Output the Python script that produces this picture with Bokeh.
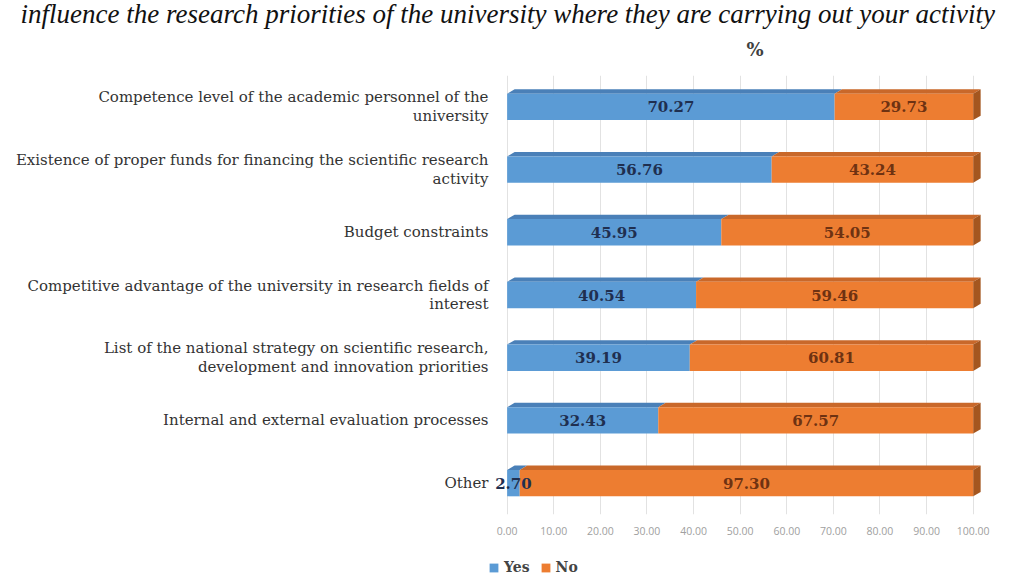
from bokeh.plotting import figure
from bokeh.layouts import column
from bokeh.models import Range1d, FixedTicker, NumeralTickFormatter, ColumnDataSource, Legend, LegendItem, Title
from bokeh.core.properties import value
from bokeh.embed import file_html
from bokeh.resources import INLINE

categories = [
    "Competence level of the academic personnel of the\nuniversity",
    "Existence of proper funds for financing the scientific research\nactivity",
    "Budget constraints",
    "Competitive advantage of the university in research fields of\ninterest",
    "List of the national strategy on scientific research,\ndevelopment and innovation priorities",
    "Internal and external evaluation processes",
    "Other",
]
yes_values = [70.27, 56.76, 45.95, 40.54, 39.19, 32.43, 2.70]
no_values = [29.73, 43.24, 54.05, 59.46, 60.81, 67.57, 97.30]
x_ticks = [0, 10, 20, 30, 40, 50, 60, 70, 80, 90, 100]
series_names = ["Yes", "No"]
caption = "influence the research priorities of the university where they are carrying out your activity"
unit_label = "%"

BLUE, BLUE_TOP = "#5b9bd5", "#4a80b8"
ORANGE, ORANGE_TOP, ORANGE_SIDE = "#ed7d31", "#c9682a", "#a4561f"

n = len(categories)
ys = list(range(n))
H = 0.21      # half height of front face (y units)
DX = 1.6      # depth skew (x units)
DY = 0.07     # depth skew (y units)

p = figure(width=1016, height=552, output_backend="svg", toolbar_location=None,
           x_range=Range1d(-4, 103.5), y_range=Range1d(n - 0.5, -0.5),
           frame_width=501, frame_height=439,
           min_border_left=488, min_border_right=27, min_border_top=75, min_border_bottom=38,
           background_fill_color="white", border_fill_color="white")
p.outline_line_color = None

# outer title: the (cropped) caption
p.title.text = caption
p.title.align = "left"
p.title.offset = -468
p.title.text_font = "Liberation Serif"
p.title.text_font_style = "italic"
p.title.text_font_size = "27px"
p.title.text_color = "#111111"
p.title.standoff = -9

# inner title: unit label
p.add_layout(Title(text=unit_label, text_font="DejaVu Serif", text_font_style="bold",
                   text_font_size="18px", text_color="#404040", align="left",
                   vertical_align="top", offset=258, standoff=28), "above")

yes_left = [0] * n
yes_right = yes_values
no_left = yes_values
no_right = [a + b for a, b in zip(yes_values, no_values)]

src = ColumnDataSource(dict(y=ys, yl=yes_left, yr=yes_right, nl=no_left, nr=no_right,
                            yes_lbl=[f"{v:.2f}" for v in yes_values],
                            no_lbl=[f"{v:.2f}" for v in no_values],
                            yes_mid=[(a + b) / 2 for a, b in zip(yes_left, yes_right)],
                            no_mid=[(a + b) / 2 for a, b in zip(no_left, no_right)]))

# top faces (3D look)
def top_face(l, r, y):
    return [l, r, r + DX, l + DX], [y - H, y - H, y - H - DY, y - H - DY]

txs, tys, tcol = [], [], []
for i in range(n):
    xs_, ys_ = top_face(yes_left[i], yes_right[i], ys[i])
    txs.append(xs_); tys.append(ys_); tcol.append(BLUE_TOP)
    xs_, ys_ = top_face(no_left[i], no_right[i], ys[i])
    txs.append(xs_); tys.append(ys_); tcol.append(ORANGE_TOP)
p.patches(txs, tys, fill_color=tcol, line_color=None)

# right side faces
sxs = [[r, r + DX, r + DX, r] for r in no_right]
sys_ = [[y - H, y - H - DY, y + H - DY, y + H] for y in ys]
p.patches(sxs, sys_, fill_color=ORANGE_SIDE, line_color=None)

p.hbar(y="y", left="yl", right="yr", height=2 * H, source=src, fill_color=BLUE, line_color=None)
p.hbar(y="y", left="nl", right="nr", height=2 * H, source=src, fill_color=ORANGE, line_color=None)

p.text(x="yes_mid", y="y", text="yes_lbl", source=src, text_align="center", text_baseline="middle",
       text_font=value("DejaVu Serif"), text_font_style="bold", text_font_size="15px", text_color="#1f2f50")
p.text(x="no_mid", y="y", text="no_lbl", source=src, text_align="center", text_baseline="middle",
       text_font=value("DejaVu Serif"), text_font_style="bold", text_font_size="15px", text_color="#6e3212")

# axes
p.yaxis.ticker = FixedTicker(ticks=ys)
p.yaxis.major_label_overrides = {i: c for i, c in enumerate(categories)}
p.yaxis.axis_line_color = None
p.yaxis.major_tick_line_color = None
p.yaxis.minor_tick_line_color = None
p.yaxis.major_label_standoff = -6
p.yaxis.major_label_text_font = "DejaVu Serif"
p.yaxis.major_label_text_font_size = "15px"
p.yaxis.major_label_text_color = "#333333"
p.yaxis.major_label_text_line_height = 1.05

p.xaxis.ticker = FixedTicker(ticks=x_ticks)
p.xaxis.formatter = NumeralTickFormatter(format="0.00")
p.xaxis.axis_line_color = None
p.xaxis.major_tick_line_color = None
p.xaxis.minor_tick_line_color = None
p.xaxis.major_label_standoff = 6
p.xaxis.major_label_text_font = "Open Sans"
p.xaxis.major_label_text_font_size = "10.5px"
p.xaxis.major_label_text_color = "#a0a0a0"

p.ygrid.grid_line_color = None
p.xgrid.grid_line_color = "#e2e2e2"
p.xgrid.ticker = FixedTicker(ticks=x_ticks)

# legend strip below the chart (swatch renderers hold one point outside the visible range)
p2 = figure(width=1016, height=26, output_backend="svg", toolbar_location=None,
            x_range=Range1d(0, 1), y_range=Range1d(0, 1),
            x_axis_location=None, y_axis_location=None,
            min_border_left=0, min_border_right=0, min_border_top=0, min_border_bottom=0,
            background_fill_color="white", border_fill_color="white")
p2.outline_line_color = None
p2.grid.grid_line_color = None
lg_yes = p2.hbar(y=[-5], left=[-5], right=[-4], height=0.5, fill_color=BLUE, line_color=None)
lg_no = p2.hbar(y=[-5], left=[-5], right=[-4], height=0.5, fill_color=ORANGE, line_color=None)
legend = Legend(items=[LegendItem(label=series_names[0], renderers=[lg_yes]),
                       LegendItem(label=series_names[1], renderers=[lg_no])],
                orientation="horizontal", location=(0, 3),
                label_text_font="DejaVu Serif", label_text_font_style="bold",
                label_text_font_size="14px", label_text_color="#444444",
                glyph_width=11, glyph_height=11, spacing=10, label_standoff=5,
                padding=3, margin=0, border_line_color=None, background_fill_alpha=0)
p2.add_layout(legend, "center")

layout = column(p, p2, spacing=0)
open("out.html", "w").write(file_html(layout, INLINE))
